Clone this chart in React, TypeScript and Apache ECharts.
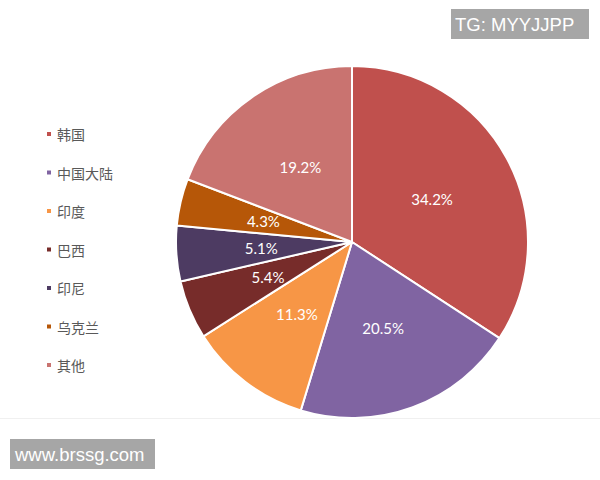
import React, { useEffect, useRef } from "react";
import * as echarts from "echarts";

const categories = ["韩国", "中国大陆", "印度", "巴西", "印尼", "乌克兰", "其他"];
const values = [34.2, 20.5, 11.3, 5.4, 5.1, 4.3, 19.2];
const colors = ["#C0504D", "#8064A2", "#F79646", "#772C2A", "#4D3B62", "#B65708", "#C97370"];

export default function App() {
  const ref = useRef<HTMLDivElement>(null);
  useEffect(() => {
    if (!ref.current) return;
    const chart = echarts.init(ref.current, undefined, { renderer: "svg" });
    chart.setOption({
      animation: false,
      backgroundColor: "#ffffff",
      legend: {
        orient: "vertical",
        left: 40,
        top: 121,
        icon: "rect",
        itemWidth: 6,
        itemHeight: 6,
        itemGap: 22.5,
        data: categories,
        textStyle: {
          color: "#595959",
          fontSize: 14,
          lineHeight: 16,
          fontFamily: "Noto Sans CJK SC",
        },
      },
      series: [
        {
          type: "pie",
          center: [352, 242],
          radius: 176,
          startAngle: 90,
          clockwise: true,
          avoidLabelOverlap: false,
          itemStyle: { borderColor: "#ffffff", borderWidth: 2 },
          label: {
            show: true,
            position: "inside",
            color: "#ffffff",
            fontSize: 15,
            fontFamily: "Lato",
            formatter: (p: any) => p.value.toFixed(1) + "%",
          },
          labelLine: { show: false },
          emphasis: { disabled: true },
          data: categories.map((c, i) => ({
            name: c,
            value: values[i],
            itemStyle: { color: colors[i] },
          })),
        },
      ],
      graphic: [
        {
          type: "line",
          shape: { x1: 0, y1: 418.5, x2: 600, y2: 418.5 },
          style: { stroke: "#f0f0f0", lineWidth: 1 },
          silent: true,
        },
        {
          type: "rect",
          shape: { x: 451, y: 9, width: 138, height: 30 },
          style: { fill: "#A6A6A6" },
        },
        {
          type: "text",
          x: 455,
          y: 24,
          style: {
            text: "TG: MYYJJPP",
            fill: "#ffffff",
            font: "18.5px 'Liberation Sans'",
            verticalAlign: "middle",
          },
        },
        {
          type: "rect",
          shape: { x: 10, y: 439, width: 145, height: 30 },
          style: { fill: "#A6A6A6" },
        },
        {
          type: "text",
          x: 15,
          y: 454,
          style: {
            text: "www.brssg.com",
            fill: "#ffffff",
            font: "18.5px 'Liberation Sans'",
            verticalAlign: "middle",
          },
        },
      ],
    });
    return () => chart.dispose();
  }, []);
  return (
    <div
      ref={ref}
      style={{ position: "fixed", left: 0, top: 0, width: 600, height: 480 }}
    />
  );
}
